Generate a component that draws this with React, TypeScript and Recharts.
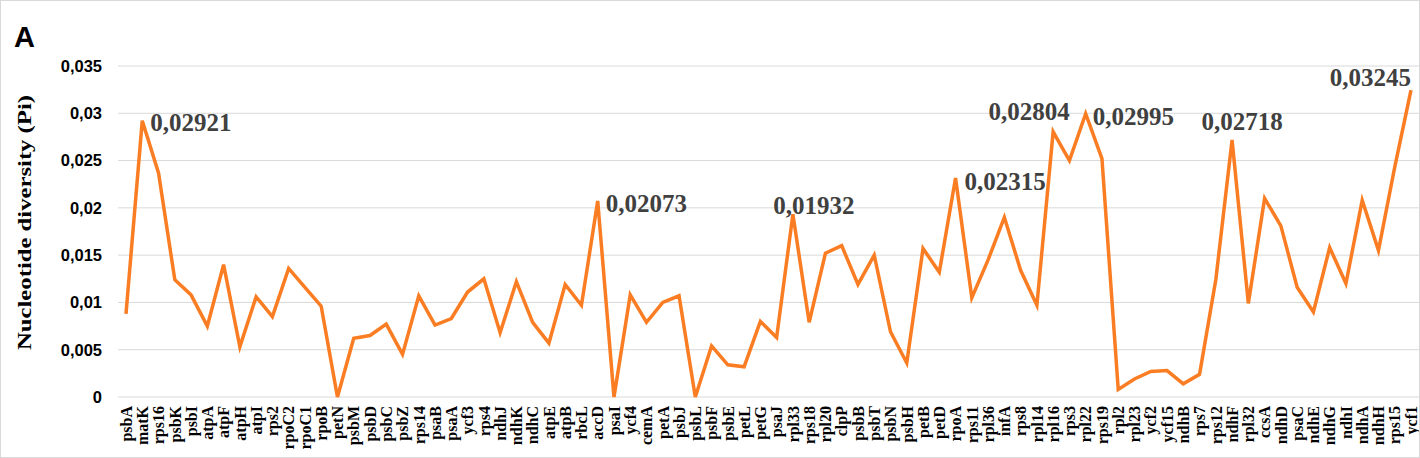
import React from "react";
import { LineChart, Line, XAxis, YAxis, CartesianGrid, Label } from "recharts";

const genes = [
  "psbA", "matK", "rps16", "psbK", "psbI", "atpA", "atpF", "atpH", "atpI", "rps2",
  "rpoC2", "rpoC1", "rpoB", "petN", "psbM", "psbD", "psbC", "psbZ", "rps14", "psaB",
  "psaA", "ycf3", "rps4", "ndhJ", "ndhK", "ndhC", "atpE", "atpB", "rbcL", "accD",
  "psaI", "ycf4", "cemA", "petA", "psbJ", "psbL", "psbF", "psbE", "petL", "petG",
  "psaJ", "rpl33", "rps18", "rpl20", "clpP", "psbB", "psbT", "psbN", "psbH", "petB",
  "petD", "rpoA", "rps11", "rpl36", "infA", "rps8", "rpl14", "rpl16", "rps3", "rpl22",
  "rps19", "rpl2", "rpl23", "ycf2", "ycf15", "ndhB", "rps7", "rps12", "ndhF", "rpl32",
  "ccsA", "ndhD", "psaC", "ndhE", "ndhG", "ndhI", "ndhA", "ndhH", "rps15", "ycf1",
];

const piValues = [
  0.0088, 0.02921, 0.0237, 0.0124, 0.0108, 0.0075, 0.014, 0.0053, 0.0106, 0.0085,
  0.0136, 0.0116, 0.0096, 0.0, 0.0062, 0.0065, 0.0077, 0.0045, 0.0107, 0.0076,
  0.0083, 0.0111, 0.0125, 0.0068, 0.0122, 0.0079, 0.0057, 0.0119, 0.0097, 0.02073,
  0.0, 0.0108, 0.0079, 0.01, 0.0107, 0.0, 0.0054, 0.0034, 0.0032, 0.008,
  0.0063, 0.01932, 0.0079, 0.0152, 0.016, 0.0119, 0.015, 0.0069, 0.0036, 0.0157,
  0.0132, 0.02315, 0.0105, 0.0145, 0.019, 0.0134, 0.0097, 0.02804, 0.025, 0.02995,
  0.0252, 0.0008, 0.0019, 0.0027, 0.0028, 0.0014, 0.0024, 0.0124, 0.02718, 0.0099,
  0.021, 0.0181, 0.0116, 0.009, 0.0158, 0.012, 0.0208, 0.0155, 0.0243, 0.03245,
];

const yTicks = [0, 0.005, 0.01, 0.015, 0.02, 0.025, 0.03, 0.035];

const labelledGenes = ["matK", "accD", "rpl33", "rpoA", "rpl16", "rpl22", "ndhF", "ycf1"];

const labelPlacement: Record<string, { dx: number; dy: number; anchor: string }> = {
  matK: { dx: 8, dy: 2, anchor: "start" },
  accD: { dx: 8, dy: 3, anchor: "start" },
  rpl33: { dx: 21, dy: -9, anchor: "middle" },
  rpoA: { dx: 9, dy: 3, anchor: "start" },
  rpl16: { dx: -24, dy: -20, anchor: "middle" },
  rpl22: { dx: 7, dy: 3, anchor: "start" },
  ndhF: { dx: 10, dy: -18, anchor: "middle" },
  ycf1: { dx: 0, dy: -13, anchor: "end" },
};

const data = genes.map((g, i) => ({ gene: g, pi: piValues[i] }));

const fmtTick = (v: number) => (v === 0 ? "0" : String(v).replace(".", ","));
const fmtLabel = (v: number) => v.toFixed(5).replace(".", ",");

const GeneTick = (props: any) => {
  const { x, y, payload } = props;
  return (
    <text
      x={x}
      y={y + 1}
      transform={`rotate(-90, ${x}, ${y + 1})`}
      textAnchor="end"
      dy="0.36em"
      fontFamily="'Liberation Serif', 'Times New Roman', serif"
      fontWeight="bold"
      fontSize={16}
      fill="#000"
    >
      {payload.value}
    </text>
  );
};

const renderPointLabel = (props: any) => {
  const { x, y, index, value } = props;
  const gene = genes[index];
  if (!labelledGenes.includes(gene)) return null;
  const p = labelPlacement[gene];
  return (
    <text
      key={`lbl-${index}`}
      x={x + p.dx}
      y={y + p.dy}
      textAnchor={p.anchor as any}
      dominantBaseline="central"
      fontFamily="'Liberation Serif', 'Times New Roman', serif"
      fontWeight="bold"
      fontSize={25}
      fill="#404040"
    >
      {fmtLabel(value)}
    </text>
  );
};

const YTitle = (props: any) => {
  const vb = props.viewBox || {};
  const cx = 25;
  const cy = (vb.y ?? 66) + (vb.height ?? 331) / 2 - 9;
  return (
    <text
      x={cx}
      y={cy}
      transform={`rotate(-90, ${cx}, ${cy})`}
      textAnchor="middle"
      dominantBaseline="central"
      fontFamily="'Liberation Serif', 'Times New Roman', serif"
      fontWeight="bold"
      fontSize={18}
      textLength={255}
      lengthAdjust="spacingAndGlyphs"
      fill="#000"
    >
      Nucleotide diversity (Pi)
    </text>
  );
};

export default function App() {
  return (
    <div style={{ position: "absolute", left: 0, top: 0, width: 1420, height: 458, background: "#fff" }}>
      <LineChart width={1420} height={458} data={data} margin={{ top: 66, right: 1, bottom: 0, left: 0 }}>
        <CartesianGrid vertical={false} stroke="#d9d9d9" strokeWidth={1} />
        <XAxis
          dataKey="gene"
          interval={0}
          tickLine={false}
          axisLine={false}
          height={61}
          padding={{ left: 8, right: 8 }}
          tick={<GeneTick />}
        />
        <YAxis
          domain={[0, 0.035]}
          ticks={yTicks}
          tickFormatter={fmtTick}
          width={118}
          tickLine={false}
          axisLine={false}
          tickMargin={10}
          tick={{
            fontFamily: "'Liberation Sans', Arial, sans-serif",
            fontWeight: "bold",
            fontSize: 16.5,
            fill: "#000",
          }}
        >
          <Label content={<YTitle />} />
        </YAxis>
        <Line
          type="linear"
          dataKey="pi"
          stroke="#FA7D23"
          strokeWidth={3.5}
          dot={false}
          activeDot={false}
          isAnimationActive={false}
          label={renderPointLabel}
        />
      </LineChart>
      <div
        style={{
          position: "absolute",
          left: 14,
          top: 18,
          fontFamily: "'Liberation Sans', Arial, sans-serif",
          fontWeight: "bold",
          fontSize: 29,
          lineHeight: "38px",
          color: "#000",
        }}
      >
        A
      </div>
      <div
        style={{
          position: "absolute",
          left: 0,
          top: 0,
          width: 1420,
          height: 458,
          boxSizing: "border-box",
          border: "1px solid #d9d9d9",
          pointerEvents: "none",
        }}
      />
    </div>
  );
}
